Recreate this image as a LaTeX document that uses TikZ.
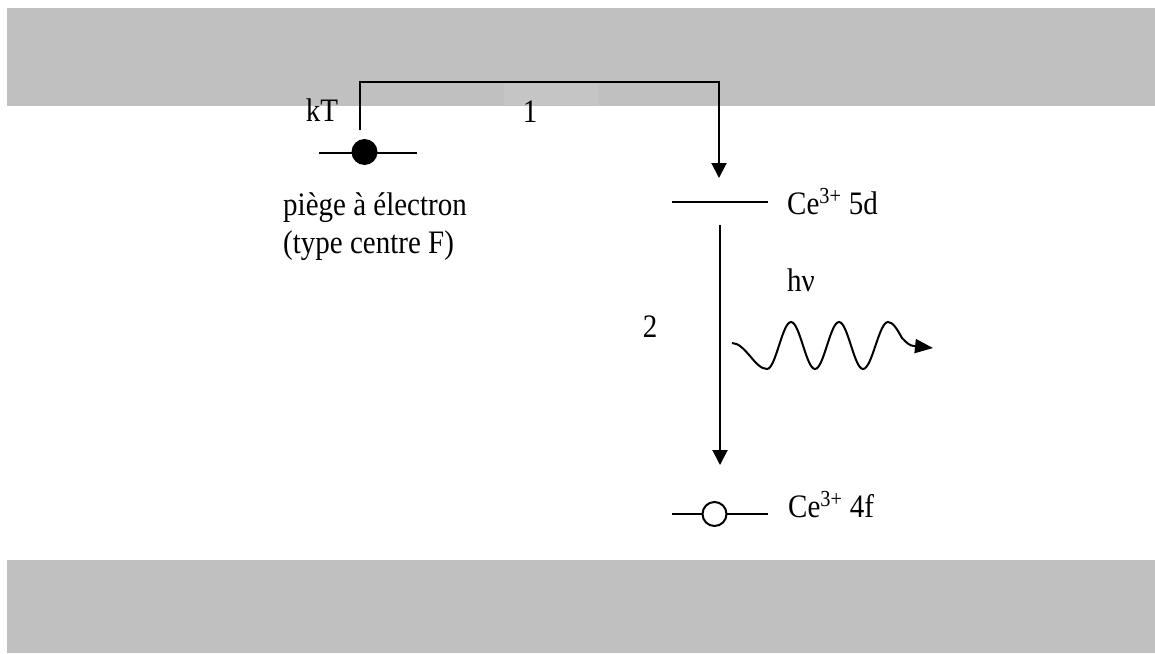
\documentclass[tikz,border=0pt]{standalone}
\usepackage{fontspec}
\setmainfont{Liberation Serif}
\usetikzlibrary{arrows.meta}
\definecolor{band}{HTML}{C0C0C0}
\definecolor{patch}{HTML}{C5C5C5}
\tikzset{
  txt/.style={font=\fontsize{29}{35}\selectfont, inner sep=0pt, yscale=1.13, transform shape},
  ln/.style={line width=2pt},
  arr/.style={line width=2pt, -{Triangle[length=15pt,width=15pt]}},
  warr/.style={line width=2pt, -{Triangle[length=18pt,width=14pt]}},
}
\begin{document}
\begin{tikzpicture}[x=1pt,y=-1pt]
\useasboundingbox (0,0) rectangle (1155,653);
% bands
\fill[band] (7,8) rectangle (1155,106);
\fill[band] (7,560) rectangle (1155,653);
\fill[patch] (504,83) rectangle (598,105);
% trap level
\coordinate (trapL) at (319,153);
\coordinate (trapR) at (417,153);
\draw[ln] (trapL) -- (trapR);
\node[circle, fill=black, minimum size=26pt, inner sep=0pt] (trap) at (364.5,152) {};
\node[txt, anchor=base] (kT) at (322,121) {kT};
% transition 1
\coordinate (k1) at (360,130);
\coordinate (k2) at (719,82);
\coordinate (k3) at (719,178);
\draw[arr] (k1) |- (k2) -- (k3);
\node[txt, anchor=base] (one) at (530,122) {1};
% labels of trap
\node[txt, anchor=base west] (piege) at (283,215) {piège à électron};
\node[txt, anchor=base west] (type) at (283,253) {(type centre F)};
% 5d level
\coordinate (dL) at (672,202);
\coordinate (dR) at (768,202);
\draw[ln] (dL) -- (dR);
\node[txt, anchor=base west] (ce5d) at (787,214) {Ce\textsuperscript{3+} 5d};
% transition 2
\coordinate (t2a) at (720,225);
\coordinate (t2b) at (720,465);
\draw[arr] (t2a) -- (t2b);
\node[txt, anchor=base] (two) at (650,337) {2};
% 4f level
\coordinate (fL) at (672,514);
\coordinate (fR) at (768,514);
\draw[ln] (fL) -- (fR);
\node[circle, draw=black, fill=white, line width=2pt, minimum size=24pt, inner sep=0pt] (hole) at (714.5,514) {};
\node[txt, anchor=base west] (ce4f) at (788,517) {Ce\textsuperscript{3+} 4f};
% photon
\node[txt, anchor=base] (hnu) at (801,291) {hν};
\coordinate (w0) at (732,343);
\coordinate (wend) at (933,348);
\draw[line width=2pt] (w0) cos (750,356) sin (767,369) cos (779,345.5) sin (791,322)
  cos (803,345.5) sin (815,369) cos (827,345.5) sin (839,322)
  cos (851,345.5) sin (863,369) cos (875.5,345.5) sin (888,322)
  cos (902,338) sin (914,346);
\draw[warr] (914,346) -- (wend);
\end{tikzpicture}
\end{document}
